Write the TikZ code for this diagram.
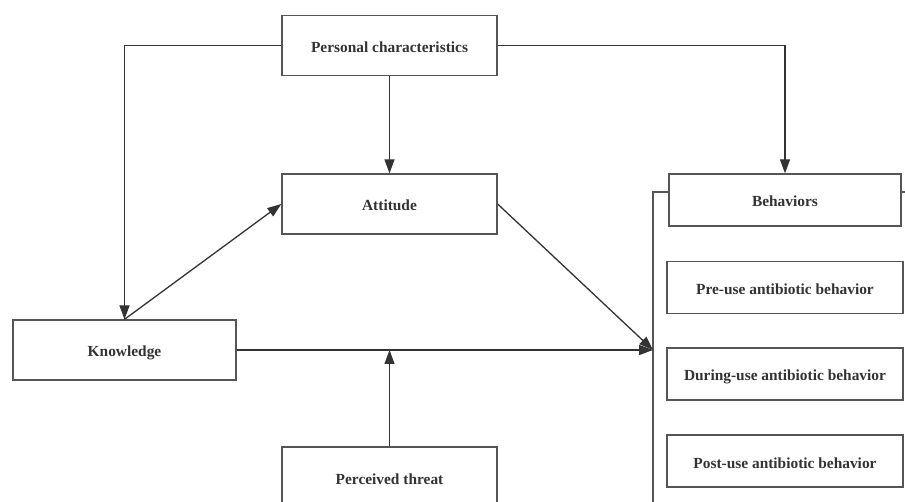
\documentclass[tikz,border=0pt]{standalone}
\usepackage{fontspec}
\setmainfont{Liberation Serif}
\usetikzlibrary{arrows.meta}
\definecolor{ink}{HTML}{333333}
\definecolor{edge}{HTML}{555555}
\tikzset{
  box/.style={draw=edge, line width=1.3pt, fill=white, rectangle, inner sep=0pt,
    text height=14pt, text depth=0pt,
    font=\bfseries\fontsize{15.4}{17}\selectfont, text=ink},
  arr/.style={draw=ink, line width=1.3pt, -{Triangle[length=14pt,width=10pt]}},
  plain/.style={draw=edge, line width=1.3pt}
}
\begin{document}
\begin{tikzpicture}[x=1pt,y=-1pt]
\clip (0,0) rectangle (905,502);
\fill[white] (0,0) rectangle (905,502);
% enclosing frame of the behaviours group
\draw[plain] (653,192) rectangle (960,560);
\node[box, minimum width=215pt, minimum height=60pt] (pc) at (389.5,45.5) {Personal characteristics};
\node[box, minimum width=215pt, minimum height=60pt] (att) at (389.5,204) {Attitude};
\node[box, minimum width=223pt, minimum height=60pt] (know) at (124.5,350) {Knowledge};
\node[box, minimum width=215pt, minimum height=60pt] (threat) at (389.5,477) {Perceived threat};
\node[box, minimum width=232pt, minimum height=52pt] (beh) at (785,200) {Behaviors};
\node[box, minimum width=236pt, minimum height=52pt] (pre) at (785,287.5) {Pre-use antibiotic behavior};
\node[box, minimum width=236pt, minimum height=52pt] (dur) at (785,374) {During-use antibiotic behavior};
\node[box, minimum width=236pt, minimum height=52pt] (post) at (785,461) {Post-use antibiotic behavior};
\coordinate (bin) at (653,350);
\draw[arr] (pc.west) -| (know.north);
\draw[arr] (pc.east) -| (beh.north);
\draw[arr] (pc) -- (att);
\draw[arr] (know.north) -- (att.west);
\draw[arr] (att.east) -- (bin);
\draw[arr] (know.east) -- (bin);
\draw[arr] (threat.north) -- (threat.north |- know.east);
\end{tikzpicture}
\end{document}
